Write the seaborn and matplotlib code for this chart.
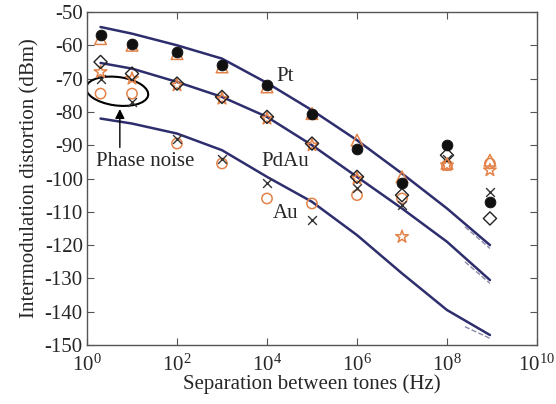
import pandas as pd
import matplotlib
matplotlib.use('Agg')
import matplotlib.pyplot as plt
from matplotlib.patches import Ellipse
import seaborn as sns

# measured points (Hz, dBm)
freq = [2, 10, 1e2, 1e3, 1e4, 1e5, 1e6, 1e7, 1e8, 9e8]
pt_circle = [-57, -59.5, -62, -66, -72, -80.5, -91, -101.5, -90, -107]
pt_triangle = [-58, -60, -62.5, -66.5, -72.5, -80.5, -88.5, -99.5, -95.5, -94.5]
pdau_diamond = [-65, -68.5, -71.5, -75.5, -81.5, -89.5, -99.5, -105, -93, -112]
pdau_star = [-68, -70, -72, -76, -82, -90, -100, -117.5, -96, -97.5]
au_cross = [-70, -77, -88, -94, -101.5, -112.5, -103, -108, -94, -104]
au_circle = [-74.5, -74.5, -89.5, -95.5, -106, -107.5, -105, -106, -96, -95.5]

# model curves
fit_freq = [2, 10, 1e2, 1e3, 1e4, 1e5, 1e6, 1e7, 1e8, 9e8]
pt_fit = [-54.5, -56.5, -60, -64, -71.3, -79.5, -88.5, -98.5, -109, -120]
pdau_fit = [-65.3, -67, -71, -75.5, -81.5, -90, -99.5, -109, -119, -130.5]
au_fit = [-82, -83.5, -86.5, -91.5, -99.5, -107, -117, -128.5, -139.5, -147]

# dashed tails near the end
dash_freq = [2.5e8, 9e8]
pt_dash = [-114.5, -121]
pdau_dash = [-125, -131.5]
au_dash = [-144.5, -148]

sns.set_style('ticks')
plt.rcParams['font.family'] = ['Liberation Serif', 'DejaVu Serif']
plt.rcParams['mathtext.fontset'] = 'custom'
plt.rcParams['mathtext.rm'] = 'Liberation Serif'
plt.rcParams['axes.unicode_minus'] = False

fig = plt.figure(figsize=(5.56, 4.04), dpi=100)
ax = fig.add_axes([87 / 556, 59 / 404, 450 / 556, 333 / 404])
ax.set_xscale('log')

navy = '#2e2e6e'
orange = '#e3834a'

for vals in [pt_fit, pdau_fit, au_fit]:
    df = pd.DataFrame({'f': fit_freq, 'v': vals})
    sns.lineplot(data=df, x='f', y='v', ax=ax, color=navy, lw=1.8)
for vals in [pt_dash, pdau_dash, au_dash]:
    df = pd.DataFrame({'f': dash_freq, 'v': vals})
    sns.lineplot(data=df, x='f', y='v', ax=ax, color='#8a8aa8', lw=1, linestyle='--')

def pts(vals, **kw):
    df = pd.DataFrame({'f': freq, 'v': vals})
    sns.scatterplot(data=df, x='f', y='v', ax=ax, zorder=3, **kw)

pts(au_circle, marker='o', s=55, facecolor='none', edgecolor=orange, linewidth=1.1)
pts(au_cross, marker='x', s=40, color='#333333', linewidth=1.0)
pts(pdau_star, marker='*', s=90, facecolor='none', edgecolor=orange, linewidth=1.1)
pts(pdau_diamond, marker='D', s=45, facecolor='none', edgecolor='#222222', linewidth=1.0)
pts(pt_triangle, marker='^', s=70, facecolor='none', edgecolor=orange, linewidth=1.1)
pts(pt_circle, marker='o', s=60, color='#111111', edgecolor='#111111')

# annotations
ax.text(10 ** 4.2, -69.5, 'Pt', fontsize=15, va='center')
ax.text(10 ** 3.88, -95, 'PdAu', fontsize=15, va='center')
ax.text(10 ** 4.12, -110.5, 'Au', fontsize=15, va='center')
ax.text(10 ** 0.2, -95, 'Phase noise', fontsize=15, va='center')
ax.annotate('', xy=(10 ** 0.73, -78.3), xytext=(10 ** 0.73, -91.5),
            arrowprops=dict(arrowstyle='-|>', color='black', lw=1, mutation_scale=14))
ax.add_patch(Ellipse((0.067, 0.762), 0.14, 0.085, angle=-12, transform=ax.transAxes,
                     fill=False, edgecolor='black', lw=1.5))

ax.set_xlim(1, 1e10)
ax.set_ylim(-150, -50)
ax.set_xticks([1, 1e2, 1e4, 1e6, 1e8, 1e10])
ax.set_yticks(range(-150, -49, 10))
ax.minorticks_off()
ax.tick_params(direction='in', length=5, top=True, right=True, labelsize=15,
               color='#555555', pad=3)
ax.tick_params(axis='x', pad=7)
for sp in ax.spines.values():
    sp.set_color('#555555')
    sp.set_linewidth(1)

ax.set_xlabel('Separation between tones (Hz)', fontsize=15, labelpad=-1)
ax.set_ylabel('Intermodulation distortion (dBm)', fontsize=15, labelpad=4)

fig.savefig('out.png', dpi=100)
